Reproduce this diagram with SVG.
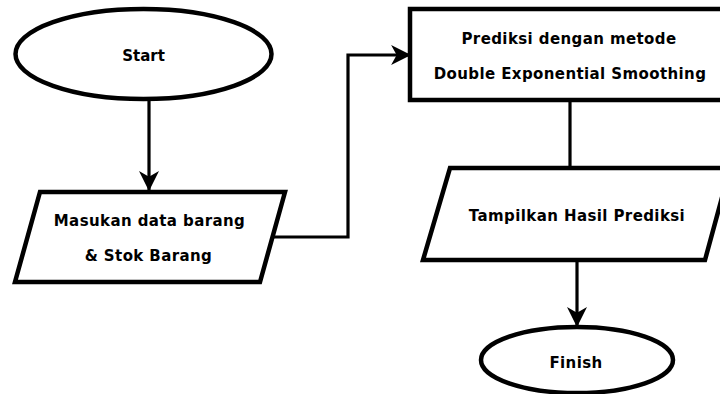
<svg xmlns="http://www.w3.org/2000/svg" width="720" height="394" viewBox="0 0 720 394">
<style>
.shape{fill:#fff;stroke:#000;stroke-width:4.5;stroke-linejoin:miter}
.conn{fill:none;stroke:#000;stroke-width:3.2}
.lbl{font-family:"DejaVu Sans",Verdana,sans-serif;font-weight:bold;font-size:15px;fill:#000;text-anchor:middle;letter-spacing:0.4px}
</style>
<defs>
<marker id="arr" markerUnits="userSpaceOnUse" markerWidth="20" markerHeight="20" viewBox="0 0 18 18" refX="17" refY="9" orient="auto">
<path d="M0,0 L18,9 L0,18 L5,9 Z" fill="#000"/>
</marker>
</defs>
<rect width="720" height="394" fill="#fff"/>
<g id="connectors">
<path class="conn" d="M149,99 V190" marker-end="url(#arr)"/>
<path class="conn" d="M273,237 H348 V55 H410" marker-end="url(#arr)"/>
<path class="conn" d="M570,100 V168"/>
<path class="conn" d="M577,260 V326" marker-end="url(#arr)"/>
</g>
<g id="start">
<ellipse class="shape" cx="143.5" cy="54" rx="128" ry="45"/>
<text class="lbl" x="143.5" y="61" style="letter-spacing:0">Start</text>
</g>
<g id="input">
<polygon class="shape" points="40,192 285,192 260,282 15,282"/>
<text class="lbl" x="149.5" y="226">Masukan data barang</text>
<text class="lbl" x="148.5" y="261">&amp; Stok Barang</text>
</g>
<g id="process">
<rect class="shape" x="410" y="9" width="318" height="91"/>
<text class="lbl" x="569" y="44">Prediksi dengan metode</text>
<text class="lbl" x="570" y="79">Double Exponential Smoothing</text>
</g>
<g id="output">
<polygon class="shape" points="450,168 730,168 705,260 423,260"/>
<text class="lbl" x="577" y="221">Tampilkan Hasil Prediksi</text>
</g>
<g id="finish">
<ellipse class="shape" cx="577" cy="360" rx="96" ry="33"/>
<text class="lbl" x="576" y="368">Finish</text>
</g>
</svg>
